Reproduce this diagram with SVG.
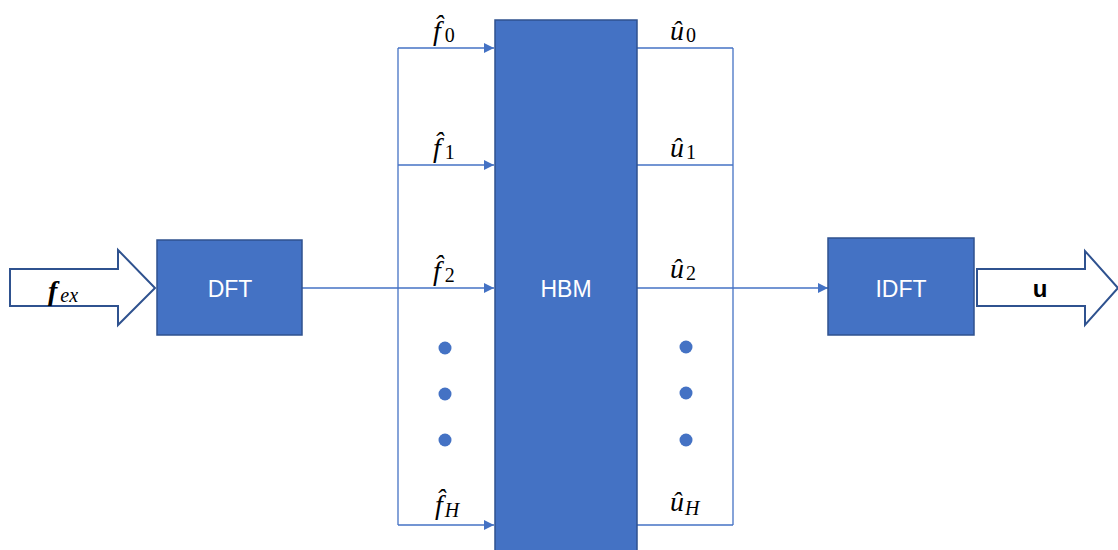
<svg xmlns="http://www.w3.org/2000/svg" width="1118" height="550" viewBox="0 0 1118 550">
<style>
.box{fill:#4472C4;stroke:#2F528F;stroke-width:1.5}
.lbl{font-family:"Liberation Sans",Arial,sans-serif;font-size:23px;fill:#fff;text-anchor:middle}
.ln{stroke:#4472C4;stroke-width:1.3;fill:none}
.big{fill:#fff;stroke:#2F528F;stroke-width:2}
.m{font-family:"Liberation Serif","DejaVu Serif",serif;font-size:28px;fill:#000}
.i{font-style:italic}
.s{font-size:20px}
.dot{fill:#4472C4}
</style>
<defs>
<marker id="ah" viewBox="0 0 10 10" refX="10" refY="5" markerWidth="10" markerHeight="10" markerUnits="userSpaceOnUse" orient="auto">
<path d="M0,0 L10,5 L0,10 z" fill="#4472C4"/>
</marker>
</defs>
<g id="connectors">
<line class="ln" x1="302" y1="288" x2="398" y2="288"/>
<line class="ln" x1="398" y1="48" x2="398" y2="525"/>
<line class="ln" x1="398" y1="48" x2="494" y2="48" marker-end="url(#ah)"/>
<line class="ln" x1="398" y1="165" x2="494" y2="165" marker-end="url(#ah)"/>
<line class="ln" x1="398" y1="288" x2="494" y2="288" marker-end="url(#ah)"/>
<line class="ln" x1="398" y1="525" x2="494" y2="525" marker-end="url(#ah)"/>
<line class="ln" x1="637" y1="48" x2="733" y2="48"/>
<line class="ln" x1="637" y1="165" x2="733" y2="165"/>
<line class="ln" x1="637" y1="525" x2="733" y2="525"/>
<line class="ln" x1="733" y1="48" x2="733" y2="525"/>
<line class="ln" x1="637" y1="288" x2="828" y2="288" marker-end="url(#ah)"/>
</g>
<g id="input-arrow">
<path class="big" d="M10,269 L118,269 L118,250 L155,288 L118,325 L118,306 L10,306 Z"/>
<text class="m" x="48" y="300"><tspan class="i" font-weight="bold">f</tspan><tspan class="i s" dx="3" dy="2" font-size="22">ex</tspan></text>
</g>
<g id="dft">
<rect class="box" x="157" y="240" width="145" height="95"/>
<text class="lbl" x="230" y="297">DFT</text>
</g>
<g id="hbm">
<rect class="box" x="495" y="20" width="142" height="535"/>
<text class="lbl" x="566" y="297">HBM</text>
</g>
<g id="idft">
<rect class="box" x="828" y="238" width="146" height="97"/>
<text class="lbl" x="901" y="297">IDFT</text>
</g>
<g id="output-arrow">
<path class="big" d="M977,269 L1085,269 L1085,251 L1118,288 L1085,325 L1085,306 L977,306 Z"/>
<text x="1040" y="297" font-family="Liberation Sans,Arial,sans-serif" font-size="24" font-weight="bold" text-anchor="middle">u</text>
</g>
<g id="labels">
<text class="m" x="433" y="40"><tspan class="i">f̂</tspan><tspan class="s" dx="4" dy="2">0</tspan></text>
<text class="m" x="433" y="157"><tspan class="i">f̂</tspan><tspan class="s" dx="4" dy="2">1</tspan></text>
<text class="m" x="433" y="280"><tspan class="i">f̂</tspan><tspan class="s" dx="4" dy="2">2</tspan></text>
<text class="m" x="435" y="514"><tspan class="i">f̂</tspan><tspan class="i s" dx="2" dy="3">H</tspan></text>
<text class="m" x="670" y="40"><tspan class="i">û</tspan><tspan class="s" dx="2" dy="2">0</tspan></text>
<text class="m" x="670" y="157"><tspan class="i">û</tspan><tspan class="s" dx="2" dy="2">1</tspan></text>
<text class="m" x="670" y="278"><tspan class="i">û</tspan><tspan class="s" dx="2" dy="2">2</tspan></text>
<text class="m" x="670" y="511"><tspan class="i">û</tspan><tspan class="i s" dx="1" dy="4">H</tspan></text>
</g>
<g id="dots">
<circle class="dot" cx="445" cy="348" r="6.5"/>
<circle class="dot" cx="445" cy="394" r="6.5"/>
<circle class="dot" cx="445" cy="440" r="6.5"/>
<circle class="dot" cx="686" cy="347" r="6.5"/>
<circle class="dot" cx="686" cy="393" r="6.5"/>
<circle class="dot" cx="686" cy="440" r="6.5"/>
</g>
</svg>
